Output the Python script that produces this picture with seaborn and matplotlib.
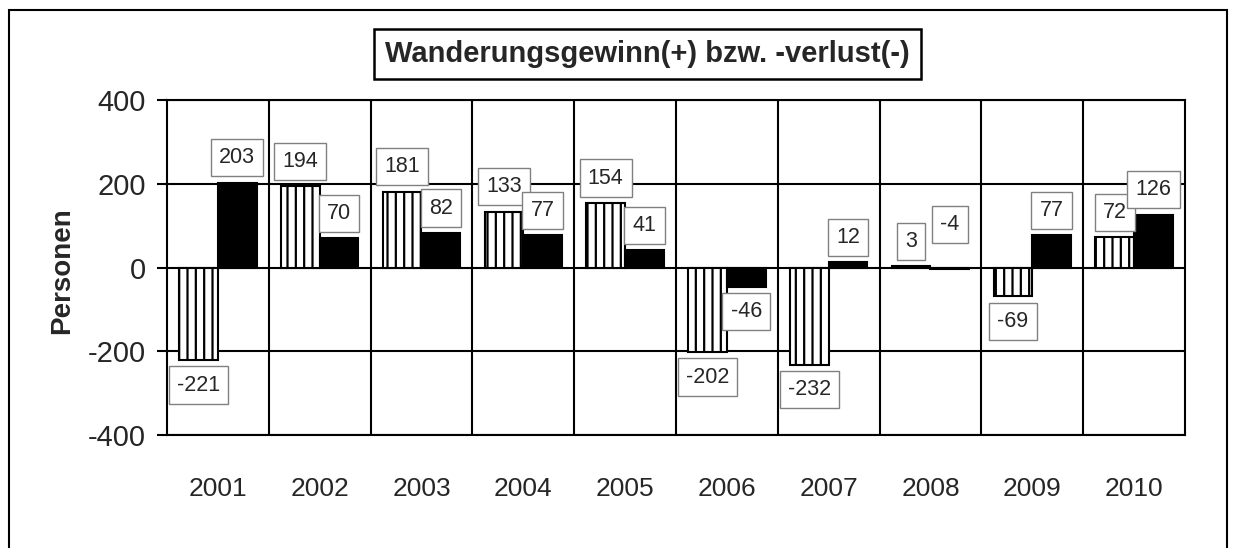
import pandas as pd
import matplotlib.pyplot as plt
import seaborn as sns
from matplotlib.patches import Rectangle

# Daten
jahre = ["2001", "2002", "2003", "2004", "2005", "2006", "2007", "2008", "2009", "2010"]
reihe_a = [-221, 194, 181, 133, 154, -202, -232, 3, -69, 72]
reihe_b = [203, 70, 82, 77, 41, -46, 12, -4, 77, 126]
reihen = ["A", "B"]
y_ticks = [-400, -200, 0, 200, 400]

df = pd.DataFrame({
    "Jahr": jahre * 2,
    "Wert": reihe_a + reihe_b,
    "Reihe": [reihen[0]] * len(jahre) + [reihen[1]] * len(jahre),
})

sns.set_style("white")
plt.rcParams["font.family"] = ["Liberation Sans", "DejaVu Sans"]
plt.rcParams["axes.unicode_minus"] = False
plt.rcParams["hatch.linewidth"] = 1.6
plt.rcParams["hatch.color"] = "black"

fig = plt.figure(figsize=(12.34, 5.48), dpi=100)
ax = fig.add_axes([0.1353, 0.2062, 0.825, 0.6113])

sns.barplot(data=df, x="Jahr", y="Wert", hue="Reihe", palette=["white", "black"],
            edgecolor="black", linewidth=1.5, width=0.76, legend=False, ax=ax, zorder=3)

for p in ax.containers[0]:
    p.set_hatch("||")

# Wertebeschriftungen
for cont, werte in zip(ax.containers, [reihe_a, reihe_b]):
    for p, v in zip(cont, werte):
        x = p.get_x() + p.get_width() / 2
        if v >= 0:
            off = 18
        elif v > -10:
            off = 32
        else:
            off = -18
        ax.annotate(str(v), (x, v), xytext=(0, off), textcoords="offset points",
                    ha="center", va="center", fontsize=15.5, zorder=5,
                    bbox=dict(boxstyle="square,pad=0.38", fc="white", ec="#808080", lw=1))

ax.set_ylim(-400, 400)
ax.set_yticks(y_ticks)
ax.set_xlim(-0.5, len(jahre) - 0.5)
ax.set_xticks(range(len(jahre)), jahre)
ax.set_xticks([i + 0.5 for i in range(len(jahre) - 1)], minor=True)
ax.grid(axis="y", which="major", color="black", lw=1.5, zorder=1)
ax.grid(axis="x", which="minor", color="black", lw=1.5, zorder=1)
ax.set_axisbelow(True)
ax.tick_params(axis="y", which="major", labelsize=21, length=7, width=1.5, direction="out",
               left=True, pad=8, color="black")
ax.tick_params(axis="x", which="both", labelsize=19, length=0, pad=30)
for s in ax.spines.values():
    s.set_color("black")
    s.set_linewidth(1.5)
ax.set_xlabel("")
ax.set_ylabel("")

fig.text(0.050, 0.507, "Personen", rotation=90, ha="center", va="center",
         fontsize=20, fontweight="bold")
fig.text(0.525, 0.9015, "Wanderungsgewinn(+) bzw. -verlust(-)", ha="center", va="center",
         fontsize=21, fontweight="bold",
         bbox=dict(boxstyle="square,pad=0.38", fc="white", ec="black", lw=1.8))

fig.patches.append(Rectangle((0.0073, -0.05), 0.9870, 1.032, transform=fig.transFigure,
                             fill=False, ec="black", lw=1.5))

fig.savefig("out.png", dpi=100)
